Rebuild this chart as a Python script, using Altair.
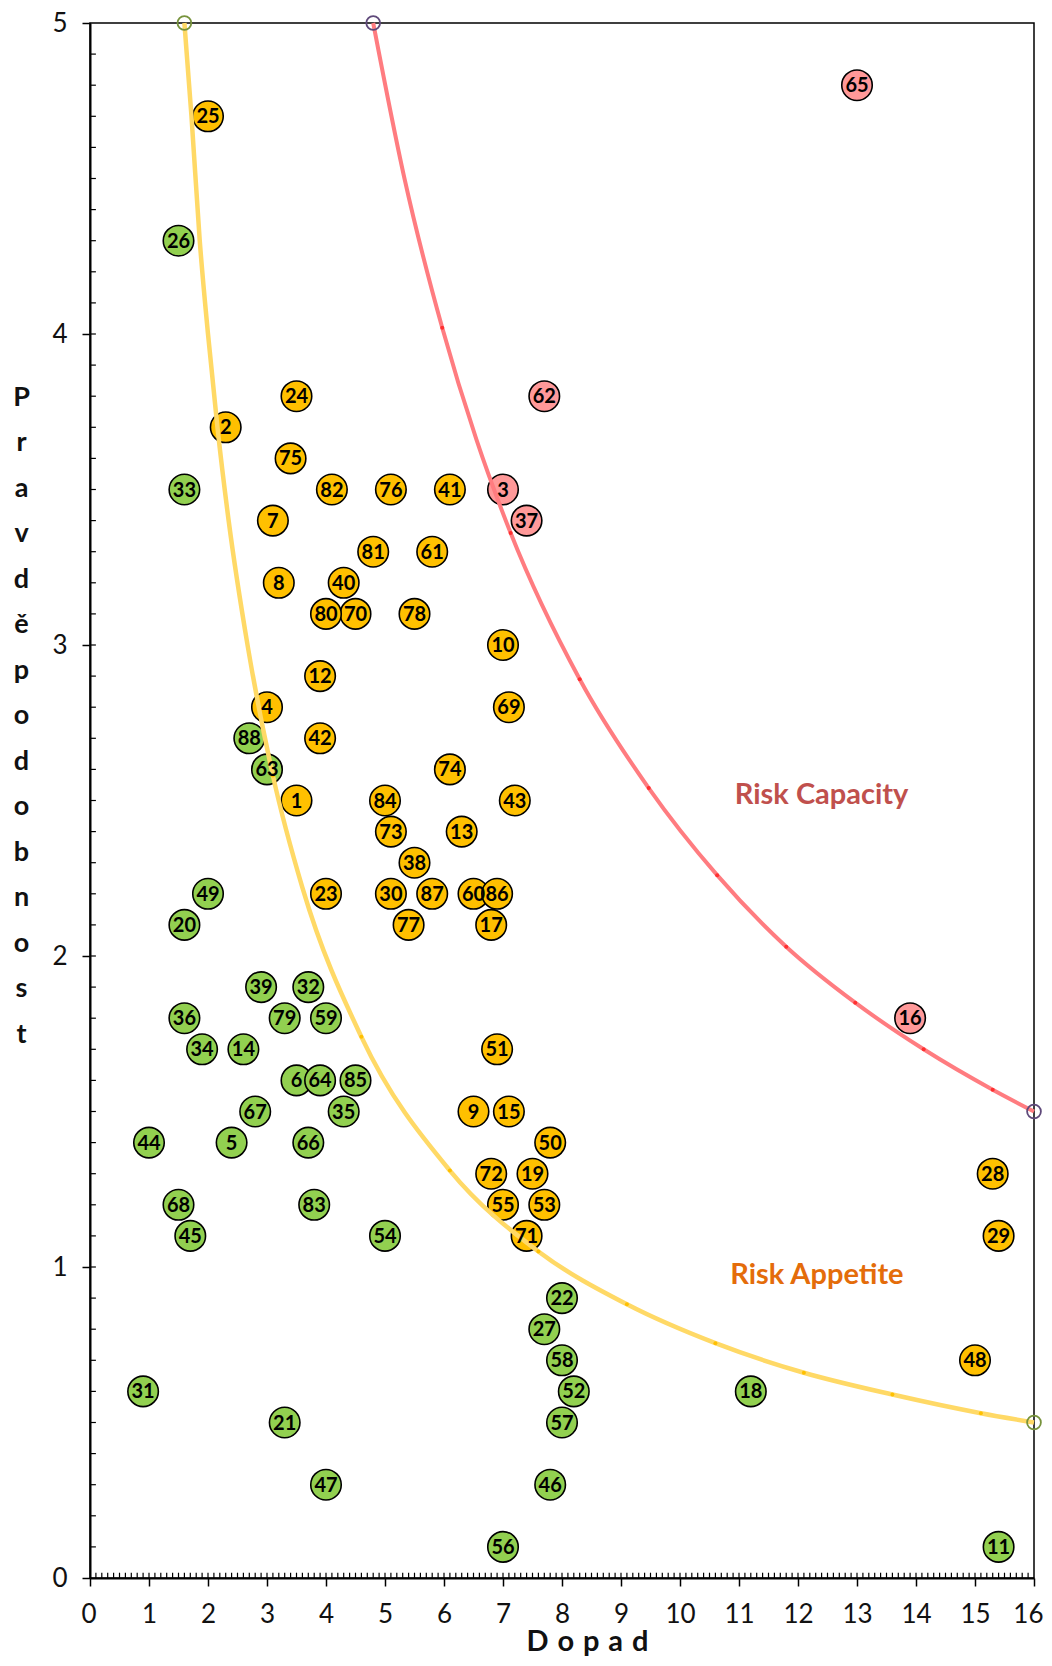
import altair as alt
import pandas as pd

# ---- risk register: id, impact (Dopad), probability (Pravděpodobnost), zone ----
ids = list(range(1, 89))
impact = [3.5, 2.3, 7.0, 3.0, 2.4, 3.5, 3.1, 3.2, 6.5, 7.0,
          15.4, 3.9, 6.3, 2.6, 7.1, 13.9, 6.8, 11.2, 7.5, 1.6,
          3.3, 8.0, 4.0, 3.5, 2.0, 1.5, 7.7, 15.3, 15.4, 5.1,
          0.9, 3.7, 1.6, 1.9, 4.3, 1.6, 7.4, 5.5, 2.9, 4.3,
          6.1, 3.9, 7.2, 1.0, 1.7, 7.8, 4.0, 15.0, 2.0, 7.8,
          6.9, 8.2, 7.7, 5.0, 7.0, 7.0, 8.0, 8.0, 4.0, 6.5,
          5.8, 7.7, 3.0, 3.9, 13.0, 3.7, 2.8, 1.5, 7.1, 4.5,
          7.4, 6.8, 5.1, 6.1, 3.4, 5.1, 5.4, 5.5, 3.3, 4.0,
          4.8, 4.1, 3.8, 5.0, 4.5, 6.9, 5.8, 2.7]
prob = [2.5, 3.7, 3.5, 2.8, 1.4, 1.6, 3.4, 3.2, 1.5, 3.0,
        0.1, 2.9, 2.4, 1.7, 1.5, 1.8, 2.1, 0.6, 1.3, 2.1,
        0.5, 0.9, 2.2, 3.8, 4.7, 4.3, 0.8, 1.3, 1.1, 2.2,
        0.6, 1.9, 3.5, 1.7, 1.5, 1.8, 3.4, 2.3, 1.9, 3.2,
        3.5, 2.7, 2.5, 1.4, 1.1, 0.3, 0.3, 0.7, 2.2, 1.4,
        1.7, 0.6, 1.2, 1.1, 1.2, 0.1, 0.5, 0.7, 1.8, 2.2,
        3.3, 3.8, 2.6, 1.6, 4.8, 1.4, 1.5, 1.2, 2.8, 3.1,
        1.1, 1.3, 2.4, 2.6, 3.6, 3.5, 2.1, 3.1, 1.8, 3.1,
        3.3, 3.5, 1.2, 2.5, 1.6, 2.2, 2.2, 2.7]
zone = ["o", "o", "r", "o", "g", "g", "o", "o", "o", "o",
        "g", "o", "o", "g", "o", "r", "o", "g", "o", "g",
        "g", "g", "o", "o", "o", "g", "g", "o", "o", "o",
        "g", "g", "g", "g", "g", "g", "r", "o", "g", "o",
        "o", "o", "o", "g", "g", "g", "g", "o", "g", "o",
        "o", "g", "o", "g", "o", "g", "g", "g", "g", "o",
        "o", "r", "g", "g", "r", "g", "g", "g", "o", "o",
        "o", "o", "o", "o", "o", "o", "o", "o", "g", "o",
        "o", "o", "g", "o", "g", "o", "o", "g"]

# ---- threshold curves (positions) ----
appetite_x = [1.6, 1.72, 1.86, 2.0, 2.16, 2.35, 2.67, 3.1, 3.6, 4.6, 6.1, 7.6,
              9.1, 10.6, 12.1, 13.6, 15.1, 16.0]
appetite_y = [5.0, 4.7, 4.3, 4.0, 3.7, 3.4, 3.0, 2.58, 2.22, 1.74, 1.31, 1.05,
              0.88, 0.755, 0.66, 0.59, 0.53, 0.5]
capacity_x = [4.8, 5.33, 5.97, 6.55, 7.13, 8.3, 9.47, 10.63, 11.8, 12.97,
              14.13, 15.3, 16.0]
capacity_y = [5.0, 4.5, 4.02, 3.66, 3.36, 2.89, 2.54, 2.26, 2.03, 1.85,
              1.70, 1.57, 1.5]
# small markers visible on the curves
appetite_mx = [3.1, 4.6, 6.1, 7.6, 9.1, 10.6, 12.1, 13.6, 15.1]
appetite_my = [2.58, 1.74, 1.31, 1.05, 0.88, 0.755, 0.66, 0.59, 0.53]
capacity_mx = [5.97, 7.13, 8.3, 9.47, 10.63, 11.8, 12.97, 14.13, 15.3]
capacity_my = [4.02, 3.36, 2.89, 2.54, 2.26, 2.03, 1.85, 1.70, 1.57]

# ---- axis ticks ----
x_major = list(range(0, 17))
y_major = [0, 1, 2, 3, 4, 5]
x_minor = [round(i * 0.1, 1) for i in range(1, 160)]
y_minor = [round(i * 0.1, 1) for i in range(1, 50)]

zone_domain = ["g", "o", "r"]
zone_colors = ["#92D050", "#FFC000", "#FF9999"]

FONT = "Lato"
y_title = list("Pravděpodobnost")
x_title = "D\u200a o\u200a p\u200a a\u200a d"

pts = pd.DataFrame({"id": ids, "x": impact, "y": prob, "zone": zone})
pts["label"] = pts["id"].astype(str)
app = pd.DataFrame({"x": appetite_x, "y": appetite_y})
cap = pd.DataFrame({"x": capacity_x, "y": capacity_y})
app_m = pd.DataFrame({"x": appetite_mx, "y": appetite_my})
cap_m = pd.DataFrame({"x": capacity_mx, "y": capacity_my})
app_end = app.iloc[[0, len(app) - 1]]
cap_end = cap.iloc[[0, len(cap) - 1]]
xmin = pd.DataFrame({"x": x_minor, "y": [0.0] * len(x_minor), "y2": [0.017] * len(x_minor)})
ymin = pd.DataFrame({"y": y_minor, "x": [0.0] * len(y_minor), "x2": [0.1] * len(y_minor)})
notes = pd.DataFrame({"x": [12.4, 12.32], "y": [2.49, 0.946],
                      "t": ["Risk Capacity", "Risk Appetite"],
                      "c": ["#C0504D", "#E46C0A"]})

XS = alt.Scale(domain=[0, 16], nice=False, zero=False)
YS = alt.Scale(domain=[0, 5], nice=False, zero=False)
X_AX = alt.Axis(values=x_major, title=x_title, grid=False,
                tickSize=8, tickWidth=1.5, tickColor="#000", domainColor="#000",
                domainWidth=2, labelFont=FONT, labelFontSize=26, labelColor="#111",
                labelPadding=15, titleFont=FONT, titleFontSize=29, titleFontWeight="bold",
                titleColor="#111", titleX=497, titleY=72, titleAlign="center",
                titleBaseline="alphabetic", labelFlush=True, labelFlushOffset=9)
Y_AX = alt.Axis(values=y_major, title=y_title, grid=False,
                tickSize=8, tickWidth=1.5, tickColor="#000", domainColor="#000",
                domainWidth=2, labelFont=FONT, labelFontSize=26, labelColor="#111",
                labelPadding=15, titleFont=FONT, titleFontSize=27, titleFontWeight="bold",
                titleColor="#111", titleAngle=0, titleAlign="center", titleBaseline="top",
                titleX=-69, titleY=361, titleLineHeight=45.5, labelFlush=False)


def X(f):
    return alt.X(f, type="quantitative", scale=XS, axis=X_AX)


def Y(f):
    return alt.Y(f, type="quantitative", scale=YS, axis=Y_AX)


minor_x = alt.Chart(xmin).mark_rule(color="#000", strokeWidth=1.2).encode(
    x=X("x"), y=Y("y"), y2="y2")
minor_y = alt.Chart(ymin).mark_rule(color="#000", strokeWidth=1.2).encode(
    y=Y("y"), x=X("x"), x2="x2")

bubbles = alt.Chart(pts).mark_circle(size=930, opacity=1, stroke="#000",
                                     strokeWidth=1.6).encode(
    x=X("x"), y=Y("y"),
    color=alt.Color("zone:N", scale=alt.Scale(domain=zone_domain, range=zone_colors),
                    legend=None),
    order=alt.Order("id:Q"))

app_line = alt.Chart(app).mark_line(color="#FFD966", strokeWidth=4.5,
                                    interpolate="monotone").encode(x=X("x"), y=Y("y"))
cap_line = alt.Chart(cap).mark_line(color="#FF7C80", strokeWidth=4,
                                    interpolate="monotone").encode(x=X("x"), y=Y("y"))
app_dots = alt.Chart(app_m).mark_circle(color="#FFC000", size=16, opacity=1).encode(
    x=X("x"), y=Y("y"))
cap_dots = alt.Chart(cap_m).mark_circle(color="#FF3030", size=16, opacity=1).encode(
    x=X("x"), y=Y("y"))
app_ends = alt.Chart(app_end).mark_point(shape="circle", size=190, filled=False,
                                         stroke="#77933C", strokeWidth=1.8, opacity=1).encode(
    x=X("x"), y=Y("y"))
cap_ends = alt.Chart(cap_end).mark_point(shape="circle", size=190, filled=False,
                                         stroke="#5F497A", strokeWidth=1.8, opacity=1).encode(
    x=X("x"), y=Y("y"))

labels = alt.Chart(pts).mark_text(font=FONT, fontSize=20, fontWeight="bold",
                                  color="#000", baseline="middle", align="center",
                                  dy=1).encode(
    x=X("x"), y=Y("y"), text="label:N")

note_text = alt.Chart(notes).mark_text(font=FONT, fontSize=29, fontWeight="bold",
                                       align="center", baseline="alphabetic").encode(
    x=X("x"), y=Y("y"), text="t:N", color=alt.Color("c:N", scale=None))

chart = alt.layer(
    minor_x, minor_y, bubbles, app_line, cap_line, app_dots, cap_dots,
    app_ends, cap_ends, labels, note_text
).properties(
    width=944, height=1555,
    padding={"left": 82, "top": 15, "right": 10, "bottom": 80},
    autosize=alt.AutoSizeParams(type="none"),
).configure_view(stroke="#000", strokeWidth=1.5)

chart.save("out.html", embed_options={"renderer": "svg", "actions": False})
